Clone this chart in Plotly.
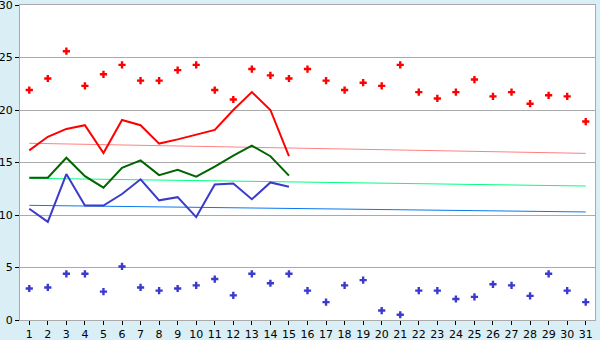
import plotly.graph_objects as go

days = list(range(1, 32))
red_dots = [21.9, 23.0, 25.6, 22.3, 23.4, 24.3, 22.8, 22.8, 23.8, 24.3,
            21.9, 21.0, 23.9, 23.3, 23.0, 23.9, 22.8, 21.9, 22.6, 22.3,
            24.3, 21.7, 21.1, 21.7, 22.9, 21.3, 21.7, 20.6, 21.4, 21.3, 18.9]
blue_dots = [3.0, 3.1, 4.4, 4.4, 2.7, 5.1, 3.1, 2.8, 3.0, 3.3,
             3.9, 2.35, 4.4, 3.5, 4.4, 2.8, 1.7, 3.3, 3.8, 0.9,
             0.5, 2.8, 2.8, 2.0, 2.2, 3.4, 3.3, 2.3, 4.4, 2.8, 1.7]
line_days = list(range(1, 16))
red_line = [16.15, 17.45, 18.2, 18.55, 15.9, 19.05, 18.55, 16.8, 17.2, 17.65,
            18.1, 20.0, 21.7, 20.0, 15.6]
green_line = [13.55, 13.55, 15.45, 13.7, 12.6, 14.5, 15.2, 13.8, 14.3, 13.65,
              14.6, 15.65, 16.6, 15.6, 13.75]
blue_line = [10.6, 9.35, 13.9, 10.9, 10.9, 12.0, 13.4, 11.4, 11.7, 9.8,
             12.9, 13.0, 11.5, 13.1, 12.7]
trend_days = [1, 31]
red_trend = [16.83, 15.87]
green_trend = [13.5, 12.76]
blue_trend = [10.92, 10.29]

fig = go.Figure()
fig.add_trace(go.Scatter(x=trend_days, y=red_trend, mode="lines",
                         line=dict(color="#ff8080", width=1)))
fig.add_trace(go.Scatter(x=trend_days, y=green_trend, mode="lines",
                         line=dict(color="#00ff80", width=1)))
fig.add_trace(go.Scatter(x=trend_days, y=blue_trend, mode="lines",
                         line=dict(color="#0a78f0", width=1)))
fig.add_trace(go.Scatter(x=line_days, y=red_line, mode="lines",
                         line=dict(color="#ff0000", width=2)))
fig.add_trace(go.Scatter(x=line_days, y=green_line, mode="lines",
                         line=dict(color="#006600", width=2)))
fig.add_trace(go.Scatter(x=line_days, y=blue_line, mode="lines",
                         line=dict(color="#3a3acc", width=2)))
fig.add_trace(go.Scatter(x=days, y=red_dots, mode="markers",
                         marker=dict(color="#ff0000", symbol="cross", size=6,
                                     line=dict(width=0))))
fig.add_trace(go.Scatter(x=days, y=blue_dots, mode="markers",
                         marker=dict(color="#3a3acc", symbol="cross", size=6,
                                     line=dict(width=0))))

fig.update_layout(
    width=600, height=340,
    margin=dict(l=20, r=5, t=5, b=20),
    paper_bgcolor="#daeff5",
    plot_bgcolor="#ffffff",
    showlegend=False,
    font=dict(family="DejaVu Sans", size=11, color="#000000"),
)
fig.update_xaxes(range=[0.5, 31.5], tickmode="array", tickvals=days,
                 ticktext=[str(d) for d in days], automargin=False,
                 showgrid=False, zeroline=False,
                 showline=True, linecolor="#aaaaaa", linewidth=1, mirror=True,
                 ticks="outside", ticklen=4, tickcolor="#000000", tickwidth=1)
fig.update_yaxes(range=[0, 30], tickvals=[0, 5, 10, 15, 20, 25, 30],
                 ticklabeloverflow="allow", automargin=False,
                 showgrid=True, gridcolor="#aaaaaa", gridwidth=1, zeroline=False,
                 showline=True, linecolor="#aaaaaa", linewidth=1, mirror=True,
                 ticks="outside", ticklen=4, tickcolor="#000000", tickwidth=1)

fig.write_html("out.html")
